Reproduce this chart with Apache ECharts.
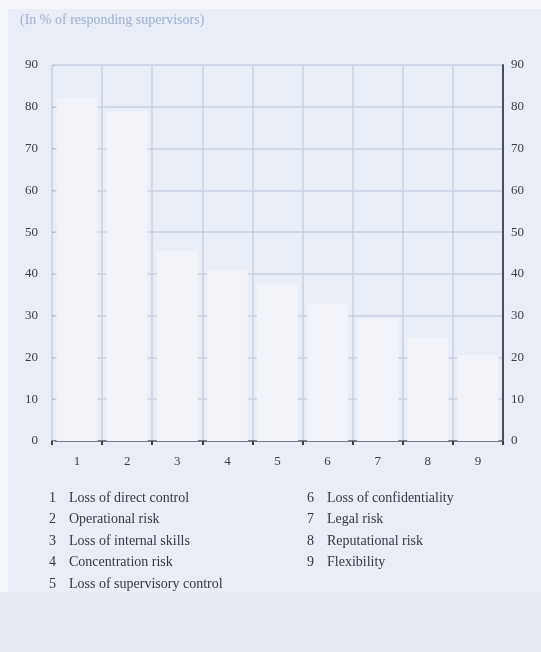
<!DOCTYPE html>
<html>
<head>
<meta charset="utf-8">
<script src="https://cdn.jsdelivr.net/npm/echarts@6/dist/echarts.min.js"></script>
<style>
html,body{margin:0;padding:0;background:#e9edf6;}
#c{width:541px;height:652px;}
</style>
</head>
<body>
<div id="c"></div>
<script>
var categories = ['1','2','3','4','5','6','7','8','9'];
var values = [82, 79, 45.5, 41, 37.5, 32.8, 29.4, 24.8, 20.6];
var legendNames = ['Loss of direct control','Operational risk','Loss of internal skills','Concentration risk','Loss of supervisory control','Loss of confidentiality','Legal risk','Reputational risk','Flexibility'];
var yTicks = [0,10,20,30,40,50,60,70,80,90];
var titleText = '(In % of responding supervisors)';

var serif = '"Liberation Serif", "DejaVu Serif", serif';
var chart = echarts.init(document.getElementById('c'));

var graphics = [
  {type:'rect', shape:{x:0,y:0,width:8,height:652}, style:{fill:'#f5f6fa'}, silent:true},
  {type:'rect', shape:{x:0,y:0,width:541,height:9}, style:{fill:'#f5f6fa'}, silent:true},
  {type:'rect', shape:{x:0,y:592,width:541,height:60}, style:{fill:'#e6eaf3'}, silent:true},
  {type:'text', left:20, top:13, style:{text:titleText, font:'14px '+serif, fill:'#9fb0d4'}}
];
legendNames.forEach(function(n,i){
  var col = i < 5 ? 0 : 1;
  var row = i < 5 ? i : i-5;
  var nx = col===0 ? 49 : 307;
  var y = 491 + row*21.5;
  graphics.push({type:'text', left:nx, top:y, style:{text:categories[i], font:'14px '+serif, fill:'#353844'}});
  graphics.push({type:'text', left:nx+20, top:y, style:{text:n, font:'14px '+serif, fill:'#353844'}});
});

chart.setOption({
  backgroundColor:'#e9edf6',
  animation:false,
  grid:{left:52, right:38, top:65, bottom:211},
  xAxis:{
    type:'category', data:categories,
    axisLine:{show:true, lineStyle:{color:'#5a5f6e', width:1.5}},
    axisTick:{show:true, alignWithLabel:false, length:4, lineStyle:{color:'#3a3d48', width:2}},
    axisLabel:{fontFamily:serif, fontSize:13, color:'#3a3d48', margin:14},
    splitLine:{show:true, lineStyle:{color:'#c7cfe2', width:1.5}}
  },
  yAxis:[
    {type:'value', min:0, max:90, interval:10,
     axisLine:{show:false},
     axisTick:{show:true, inside:true, length:3, lineStyle:{color:'#b4bdd3'}},
     axisLabel:{fontFamily:serif, fontSize:13, color:'#3a3d48', margin:14},
     splitLine:{show:true, lineStyle:{color:'#c7cfe2', width:1.5}}},
    {type:'value', min:0, max:90, interval:10, position:'right',
     axisLine:{show:true, lineStyle:{color:'#4a4e5c', width:2}},
     axisTick:{show:false},
     axisLabel:{fontFamily:serif, fontSize:13, color:'#3a3d48', margin:8},
     splitLine:{show:false}}
  ],
  series:[{
    type:'bar', data:values, barCategoryGap:'18%',
    itemStyle:{color:'#f1f3f9'}
  }],
  graphic:graphics
});
</script>
</body>
</html>
